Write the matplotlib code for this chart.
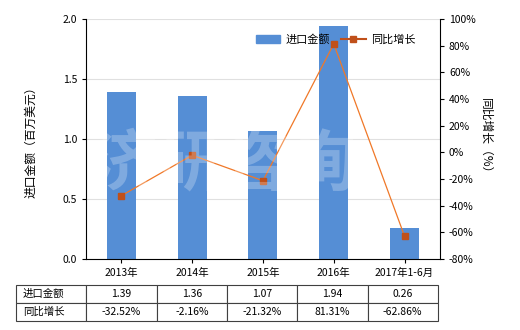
import matplotlib
matplotlib.use("Agg")
import matplotlib.pyplot as plt
from matplotlib.lines import Line2D
from matplotlib.patches import Patch

plt.rcParams['font.family'] = ['Noto Sans CJK SC', 'DejaVu Sans']
plt.rcParams['axes.unicode_minus'] = False

years = ["2013年", "2014年", "2015年", "2016年", "2017年1-6月"]
amount = [1.39, 1.36, 1.07, 1.94, 0.26]
growth = [-32.52, -2.16, -21.32, 81.31, -62.86]
amount_txt = ["1.39", "1.36", "1.07", "1.94", "0.26"]
growth_txt = ["-32.52%", "-2.16%", "-21.32%", "81.31%", "-62.86%"]

bar_color = "#558ED5"
line_color = "#F07828"
marker_color = "#C0501A"

fig = plt.figure(figsize=(5.2, 3.3), dpi=100)
ax = fig.add_axes([0.1654, 0.2152, 0.6806, 0.7272])
x = range(len(years))
ax.bar(x, amount, width=0.41, color=bar_color, zorder=2)
ax.set_xlim(-0.5, 4.5)
ax.set_ylim(0, 2.0)
ax.set_yticks([0, 0.5, 1.0, 1.5, 2.0])
ax.set_yticklabels(["0.0", "0.5", "1.0", "1.5", "2.0"])
ax.grid(axis="y", color="#e0e0e0", linewidth=0.8, zorder=0)
ax.set_xticks(list(x))
ax.set_xticklabels(years)
ax.tick_params(labelsize=7.5, length=3)
for s in ["top", "right"]:
    ax.spines[s].set_visible(False)
ax.set_ylabel("进口金额（百万美元）", fontsize=8.5, labelpad=18)

ax2 = ax.twinx()
ax2.plot(list(x), growth, color=line_color, linewidth=0.9, marker="s", markersize=4,
         markerfacecolor=marker_color, markeredgecolor=marker_color, zorder=3)
ax2.set_ylim(-80, 100)
ax2.set_yticks(range(-80, 101, 20))
ax2.set_yticklabels([f"{v}%" for v in range(-80, 101, 20)])
ax2.tick_params(labelsize=7.5, length=3)
for s in ["top", "left", "bottom"]:
    ax2.spines[s].set_visible(False)
ax2.set_ylabel("同比增长（%）", fontsize=8.5, rotation=-90, labelpad=12)

# watermark
fig.text(0.43, 0.5, "济研咨询", fontsize=48, color="white", alpha=0.25,
         ha="center", va="center", fontweight="bold", zorder=5)

handles = [Patch(color=bar_color),
           Line2D([0], [0], color=marker_color, linewidth=1.5, marker="s", markersize=4)]
ax2.legend(handles, ["进口金额", "同比增长"], loc="upper right", bbox_to_anchor=(0.96, 0.98),
           ncol=2, frameon=False, fontsize=8, handlelength=2.2, columnspacing=1.0,
           handletextpad=0.5)

cells = [["进口金额"] + amount_txt, ["同比增长"] + growth_txt]
tb = ax.table(cellText=cells, bbox=[-0.1977, -0.2583, 1.192, 0.15], cellLoc="center")
tb.auto_set_font_size(False)
tb.set_fontsize(7.5)
for (r, c), cell in tb.get_celld().items():
    cell.set_edgecolor("#404040")
    cell.set_linewidth(0.8)
    if c == 0:
        cell.set_text_props(ha="left")
        cell._loc = "left"

fig.savefig("out.png", dpi=100)
